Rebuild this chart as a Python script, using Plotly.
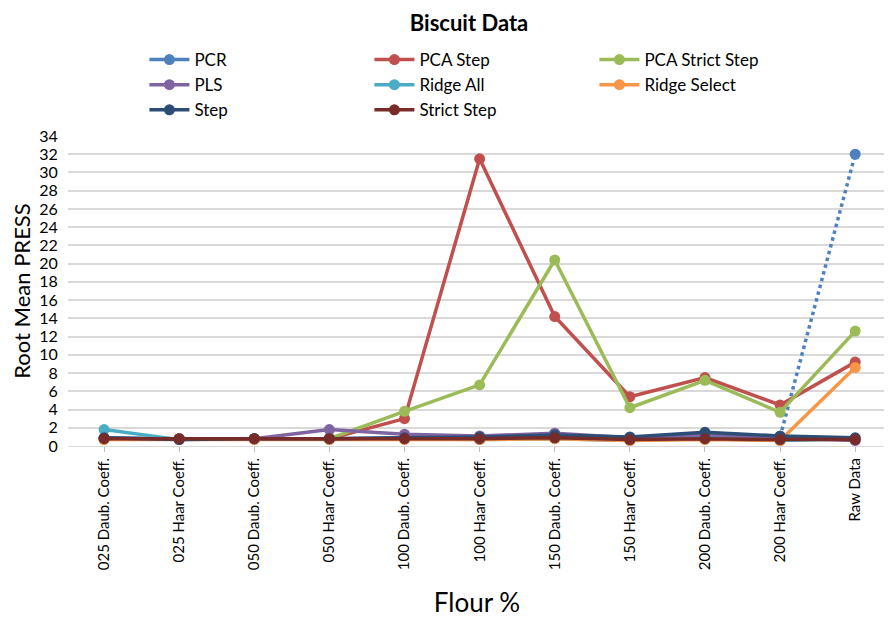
import plotly.graph_objects as go

categories = ["025 Daub. Coeff.", "025 Haar Coeff.", "050 Daub. Coeff.", "050 Haar Coeff.",
              "100 Daub. Coeff.", "100 Haar Coeff.", "150 Daub. Coeff.", "150 Haar Coeff.",
              "200 Daub. Coeff.", "200 Haar Coeff.", "Raw Data"]

pcr = [0.9, 0.8, 0.8, 0.8, 0.9, 0.9, 1.0, 0.9, 1.0, 1.0, 32.0]
pca_step = [0.8, 0.8, 0.8, 0.8, 3.0, 31.5, 14.2, 5.4, 7.5, 4.5, 9.2]
pca_strict_step = [0.8, 0.8, 0.8, 0.8, 3.8, 6.7, 20.4, 4.2, 7.2, 3.7, 12.6]
pls = [0.8, 0.8, 0.8, 1.8, 1.3, 1.1, 1.4, 0.9, 1.3, 0.9, 0.6]
ridge_all = [1.8, 0.7, 0.8, 0.8, 0.8, 0.7, 0.8, 0.6, 0.8, 0.6, 0.8]
ridge_select = [0.7, 0.7, 0.7, 0.7, 0.7, 0.7, 0.8, 0.6, 0.7, 0.6, 8.6]
step = [0.9, 0.7, 0.8, 0.8, 0.9, 1.0, 1.2, 1.0, 1.5, 1.1, 0.9]
strict_step = [0.8, 0.8, 0.8, 0.8, 0.8, 0.8, 0.9, 0.7, 0.8, 0.7, 0.7]

series = [
    ("PCR", pcr, "#4F81BD"),
    ("PCA Step", pca_step, "#C0504D"),
    ("PCA Strict Step", pca_strict_step, "#9BBB59"),
    ("PLS", pls, "#8064A2"),
    ("Ridge All", ridge_all, "#4BACC6"),
    ("Ridge Select", ridge_select, "#F79646"),
    ("Step", step, "#2C4D75"),
    ("Strict Step", strict_step, "#772C2A"),
]

xi = list(range(len(categories)))
fig = go.Figure()
for name, vals, color in series:
    if name == "PCR":
        fig.add_trace(go.Scatter(x=xi[:-1], y=vals[:-1], name=name, mode="lines+markers",
                                 line=dict(color=color, width=3.5),
                                 marker=dict(size=11, color=color)))
        fig.add_trace(go.Scatter(x=xi[-2:], y=vals[-2:], name=name, mode="lines",
                                 line=dict(color=color, width=3.5, dash="dot"),
                                 showlegend=False))
        fig.add_trace(go.Scatter(x=xi[-1:], y=vals[-1:], name=name, mode="markers",
                                 marker=dict(size=11, color=color), showlegend=False))
    else:
        fig.add_trace(go.Scatter(x=xi, y=vals, name=name, mode="lines+markers",
                                 line=dict(color=color, width=3.5),
                                 marker=dict(size=11, color=color)))

font_family = "Lato, 'Open Sans', sans-serif"
W, H = 884, 610
fig.update_layout(
    width=W, height=H,
    paper_bgcolor="white", plot_bgcolor="white",
    font=dict(family=font_family, color="#000000"),
    margin=dict(l=60, r=6, t=128, b=172),
    title=dict(text="<b>Biscuit Data</b>", x=461 / W, xanchor="center", xref="container",
               y=1 - 15 / H, yanchor="middle", yref="container",
               font=dict(size=22, family=font_family, color="#000")),
    legend=dict(orientation="h", x=(175 - 68) / 818 - 0.0374, xanchor="left", y=1.303, yanchor="top",
                entrywidth=170, entrywidthmode="pixels",
                font=dict(size=17, family=font_family), itemwidth=40,
                tracegroupgap=0, bgcolor="rgba(0,0,0,0)"),
    showlegend=True,
)
fig.update_xaxes(
    tickmode="array", tickvals=xi, ticktext=categories, tickangle=-90,
    range=[-0.48, 10.41], showgrid=False, zeroline=False,
    ticks="outside", ticklen=5, tickcolor="#BFBFBF",
    showline=True, linecolor="#D9D9D9", linewidth=1, automargin=False,
    tickfont=dict(size=15, family=font_family, color="#000"),
    title=dict(text="Flour %", font=dict(size=26, family=font_family, color="#000"), standoff=29),
)
fig.update_yaxes(
    range=[0, 34], dtick=2, tick0=0, showgrid=True, gridcolor="#D9D9D9", gridwidth=1.5,
    zeroline=False, showline=False, automargin=False,
    ticks="outside", ticklen=6, tickcolor="rgba(0,0,0,0)",
    tickfont=dict(size=16, family=font_family, color="#000"),
    title=dict(text="Root Mean PRESS", font=dict(size=22, family=font_family, color="#000"), standoff=17),
)
fig.write_html("out.html")
